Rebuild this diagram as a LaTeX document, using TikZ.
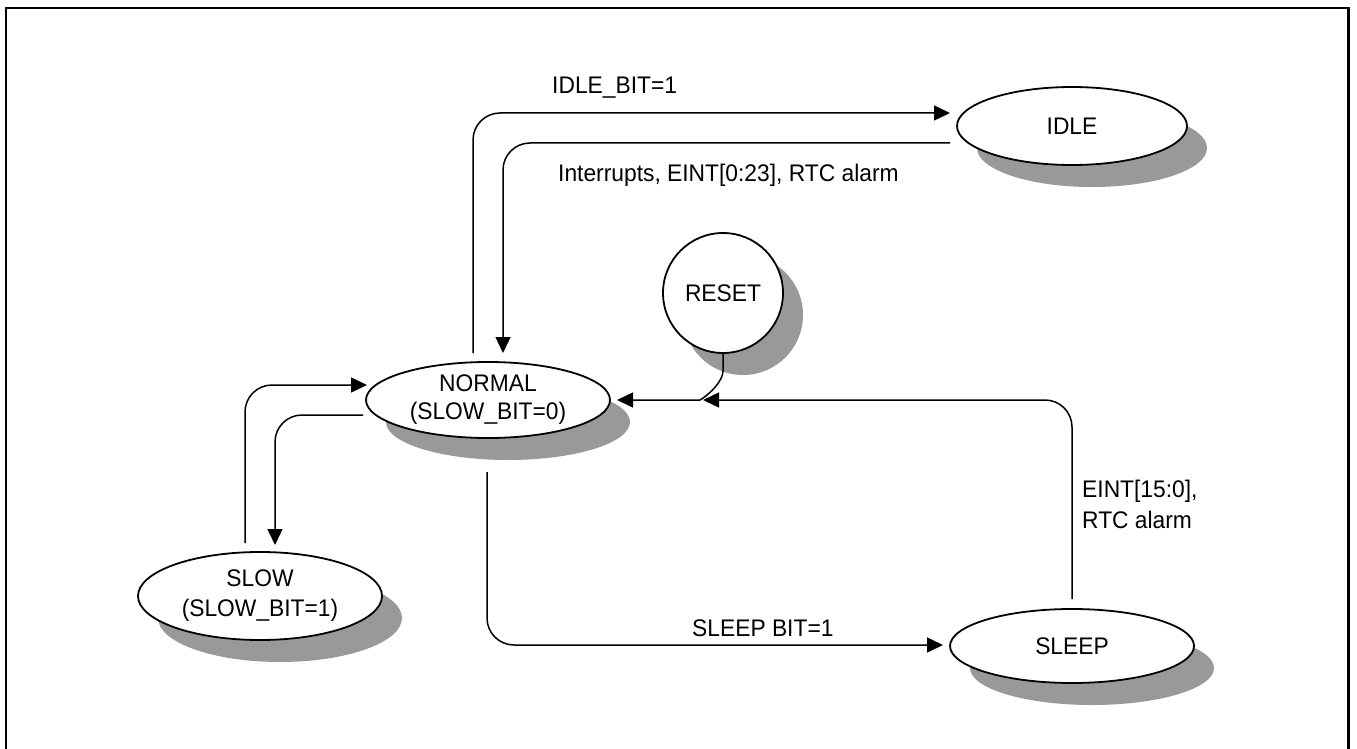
\documentclass[tikz,border=0pt]{standalone}
\usepackage{fontspec}
\setmainfont{Liberation Sans}[FakeStretch=0.95]
\usetikzlibrary{shapes.geometric,arrows.meta,shadows,calc}
\definecolor{shadowgray}{RGB}{153,153,153}
\begin{document}
\begin{tikzpicture}[x=1pt,y=-1pt,
  state/.style={ellipse,draw,line width=1.8pt,fill=white,inner sep=0pt,outer sep=0pt,align=center,
    font=\fontsize{24}{28}\selectfont,
    drop shadow={shadow xshift=20pt,shadow yshift=-22pt,fill=shadowgray,opacity=1}},
  conn/.style={line width=1.5pt,rounded corners=27pt},
  arr/.style={conn,-{Triangle[length=16pt,width=15pt]}},
  lbl/.style={anchor=base west,inner sep=0pt,font=\fontsize{24}{31}\selectfont,align=left}]
\useasboundingbox (0,0) rectangle (1357,749);
\draw[line width=2.5pt] (6,770) -- (6,8) -- (1348.3,8) -- (1348.3,770);

\node[state,minimum width=230pt,minimum height=78pt] (idle) at (1072,126) {IDLE};
\node[state,minimum width=244pt,minimum height=76pt] (normal) at (488,400) {NORMAL\\(SLOW\_BIT=0)};
\node[state,minimum width=244pt,minimum height=88pt,font=\fontsize{24}{30}\selectfont] (slow) at (260,596) {SLOW\\(SLOW\_BIT=1)};
\node[state,circle,minimum size=120pt] (reset) at (723,293) {RESET};
\node[state,minimum width=244pt,minimum height=74pt] (sleep) at (1072,646) {SLEEP};

\draw[arr] ($(normal.north)+(-15,-9)$) |- ($(idle.west)+(-7,-13)$);
\draw[arr] ($(idle.west)+(-7,17)$) -| ($(normal.north)+(15,-9)$);
\draw[arr] ($(slow.north)+(-15,-9)$) |- ($(normal.west)+(1,-15)$);
\draw[arr] ($(normal.west)+(-3,15)$) -| ($(slow.north)+(15,-7)$);
\draw[arr] ($(normal.south)+(-1,34)$) |- ($(sleep.west)+(-7,-1)$);
\coordinate (j) at ($(normal.east)+(93,0)$);
\draw[arr] ($(sleep.north)+(0,-10)$) |- (j);
\draw[arr,sharp corners] (reset.south) -- ++(0,18) .. controls +(0,10) and +(10,-6) .. ($(j)+(-3,0)$) -- ($(normal.east)+(7,0)$);

\node[lbl] (l1) at (552,94) {IDLE\_BIT=1};
\node[lbl] (l2) at (558,181) {Interrupts, EINT[0:23], RTC alarm};
\node[lbl] (l3) at (692,636) {SLEEP BIT=1};
\node[lbl,anchor=west] (l4) at (1082,504) {EINT[15:0],\\RTC alarm};
\end{tikzpicture}
\end{document}
